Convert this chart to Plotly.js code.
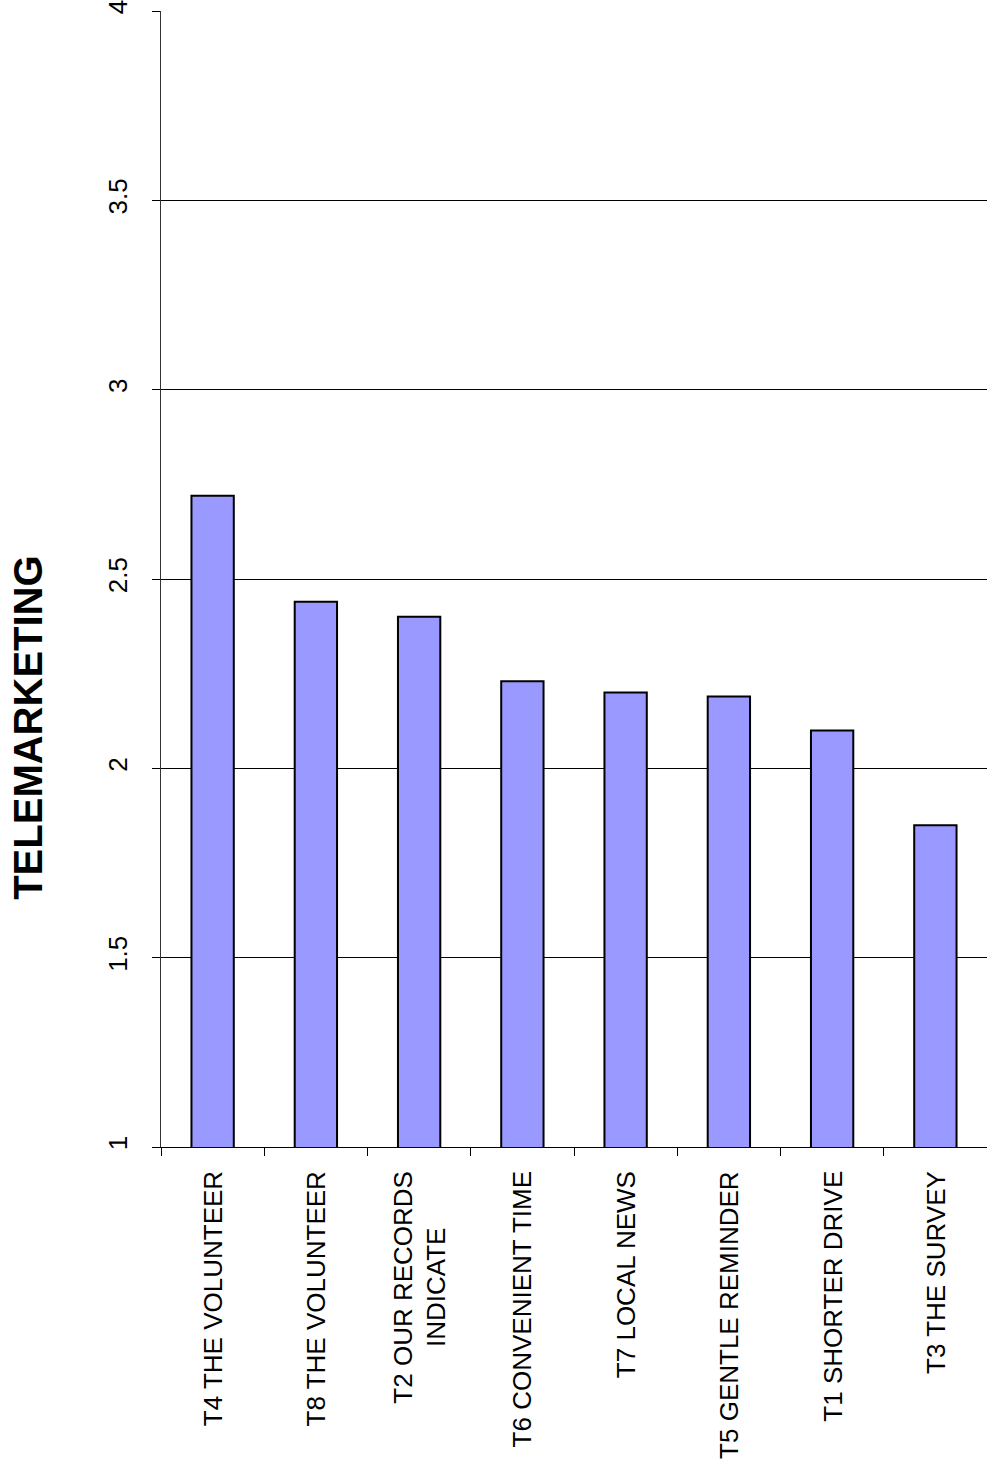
<!DOCTYPE html>
<html>
<head>
<meta charset="utf-8">
<script src="https://cdn.plot.ly/plotly-3.0.1.min.js"></script>
<style>
  html, body { margin: 0; padding: 0; background: #ffffff; }
  #chart { width: 987px; height: 1478px; }
</style>
</head>
<body>
<div id="chart"></div>
<script>
// Telemarketing message scores, sorted from highest to lowest
const categories = [
  "T4 THE VOLUNTEER",
  "T8 THE VOLUNTEER",
  "T2 OUR RECORDS<br>INDICATE",
  "T6 CONVENIENT TIME",
  "T7 LOCAL NEWS",
  "T5 GENTLE REMINDER",
  "T1 SHORTER DRIVE",
  "T3 THE SURVEY"
];
const scores = [2.72, 2.44, 2.40, 2.23, 2.20, 2.19, 2.10, 1.85];
const yTickValues = [1, 1.5, 2, 2.5, 3, 3.5, 4];
const yTickLabels = ["1", "1.5", "2", "2.5", "3", "3.5", "4"];
const chartTitle = "TELEMARKETING";

const FONT = "Liberation Sans, Arial, Helvetica, sans-serif";
const LABEL_SIZE = 26;

const trace = {
  type: "bar",
  x: categories,
  y: scores,
  width: 0.41,
  marker: {
    color: "#9999ff",
    line: { color: "#000000", width: 2 }
  },
  hoverinfo: "x+y"
};

// Category labels drawn as rotated annotations so two-line labels stay centred
const labelAnnotations = categories.map(c => ({
  x: c,
  xref: "x",
  y: 0,
  yref: "paper",
  yanchor: "top",
  xanchor: "center",
  yshift: -22,
  text: c,
  textangle: -90,
  align: "center",
  showarrow: false,
  font: { family: FONT, size: LABEL_SIZE, color: "#000000" }
}));

const titleAnnotation = {
  text: "<b>" + chartTitle + "</b>",
  xref: "paper",
  yref: "paper",
  x: -0.161,
  y: 0.369,
  xanchor: "center",
  yanchor: "middle",
  textangle: -90,
  showarrow: false,
  font: { family: FONT, size: 40, color: "#000000" }
};

const layout = {
  width: 987,
  height: 1478,
  margin: { l: 161, r: 0, t: 11, b: 331, pad: 0 },
  paper_bgcolor: "#ffffff",
  plot_bgcolor: "#ffffff",
  showlegend: false,
  font: { family: FONT, size: LABEL_SIZE, color: "#000000" },
  xaxis: {
    type: "category",
    showticklabels: false,
    tickson: "boundaries",
    ticks: "outside",
    ticklen: 8,
    tickwidth: 1,
    tickcolor: "#000000",
    showline: true,
    linecolor: "#000000",
    linewidth: 1,
    showgrid: false,
    zeroline: false,
    fixedrange: true
  },
  yaxis: {
    range: [1, 4],
    tickmode: "array",
    tickvals: yTickValues,
    ticktext: yTickLabels,
    tickangle: -90,
    ticks: "outside",
    ticklen: 8,
    tickwidth: 1,
    tickcolor: "#000000",
    ticklabelstandoff: 14,
    ticklabeloverflow: "allow",
    tickfont: { family: FONT, size: LABEL_SIZE, color: "#000000" },
    showline: true,
    linecolor: "#333333",
    linewidth: 1.5,
    showgrid: true,
    gridcolor: "#000000",
    gridwidth: 1,
    zeroline: false,
    fixedrange: true
  },
  annotations: labelAnnotations.concat([titleAnnotation])
};

Plotly.newPlot("chart", [trace], layout, { displayModeBar: false, staticPlot: true });
</script>
</body>
</html>
